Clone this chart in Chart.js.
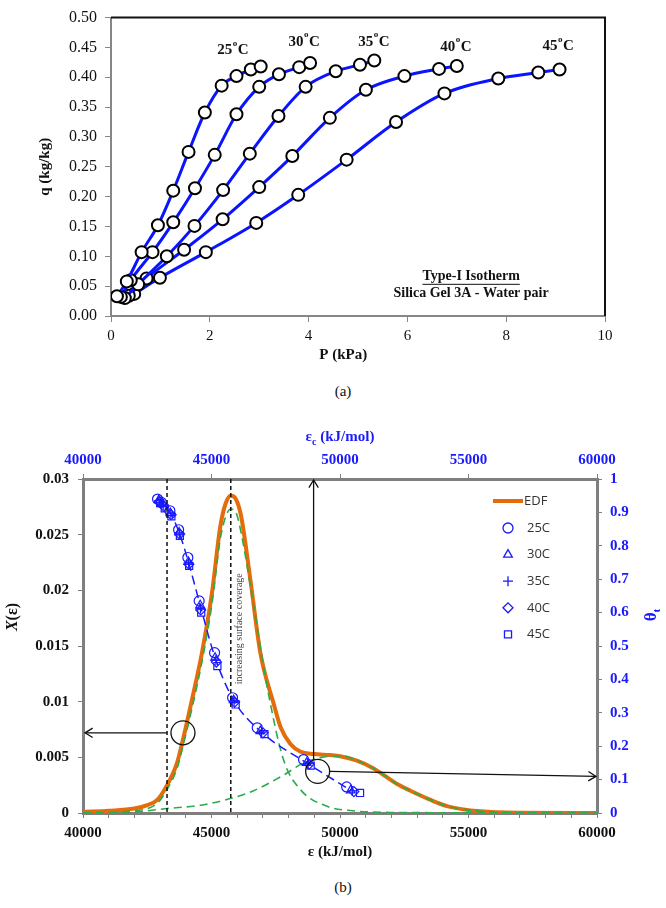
<!DOCTYPE html>
<html>
<head>
<meta charset="utf-8">
<script src="https://cdn.jsdelivr.net/npm/chart.js@4.4.1/dist/chart.umd.min.js"></script>
<style>
  body { margin: 0; background: #fff; width: 666px; height: 908px; position: relative; overflow: hidden; font-family: "Liberation Serif", serif; }
  canvas { position: absolute; left: 0; }
  .cap { position: absolute; left: 10px; width: 666px; text-align: center; font-size: 15px; color: #111; }
</style>
</head>
<body>
<canvas id="chartA" width="666" height="372" style="top:0"></canvas>
<div class="cap" style="top:383px">(a)</div>
<canvas id="chartB" width="666" height="440" style="top:425px"></canvas>
<div class="cap" style="top:879px">(b)</div>
<script>
// (a) isotherms: pressure (kPa) and uptake (kg/kg)
const isoLabels = ["25", "30", "35", "40", "45"];
const p25 = [0.12, 0.32, 0.62, 0.95, 1.26, 1.57, 1.90, 2.24, 2.54, 2.83, 3.03];
const q25 = [0.033, 0.058, 0.107, 0.152, 0.210, 0.275, 0.341, 0.386, 0.402, 0.413, 0.418];
const p30 = [0.20, 0.40, 0.84, 1.26, 1.70, 2.10, 2.54, 3.00, 3.40, 3.81, 4.03];
const q30 = [0.032, 0.060, 0.107, 0.157, 0.214, 0.270, 0.338, 0.384, 0.405, 0.417, 0.424];
const p35 = [0.28, 0.55, 1.13, 1.69, 2.27, 2.81, 3.39, 3.94, 4.55, 5.04, 5.33];
const q35 = [0.030, 0.053, 0.100, 0.151, 0.211, 0.272, 0.335, 0.384, 0.410, 0.421, 0.428];
const p40 = [0.36, 0.72, 1.48, 2.26, 3.00, 3.67, 4.43, 5.16, 5.94, 6.64, 7.00];
const q40 = [0.034, 0.063, 0.111, 0.162, 0.216, 0.268, 0.332, 0.379, 0.402, 0.414, 0.419];
const p45 = [0.47, 0.99, 1.92, 2.94, 3.79, 4.77, 5.77, 6.75, 7.84, 8.65, 9.08];
const q45 = [0.037, 0.064, 0.107, 0.156, 0.203, 0.262, 0.325, 0.373, 0.398, 0.408, 0.413];
// where the temperature labels sit (P, q)
const isoLabelP = [2.47, 3.91, 5.32, 6.98, 9.05];
const isoLabelQ = [0.445, 0.459, 0.459, 0.451, 0.452];

// (b) energy distribution function and its two components
const edfEps = [40000, 41000, 42000, 42500, 42900, 43270, 43660, 43890, 44300, 44630, 45020, 45340, 45550, 45750, 45950, 46150, 46510, 46900, 47420, 47690, 48070, 48470, 48970, 49620, 50010, 50660, 51310, 52220, 52740, 53500, 54200, 55460, 57000, 60000];
const edfX = [0.0001, 0.0002, 0.0004, 0.0007, 0.0012, 0.0025, 0.0045, 0.0066, 0.0108, 0.0144, 0.0198, 0.0257, 0.0278, 0.0285, 0.0282, 0.0267, 0.0210, 0.0144, 0.0098, 0.0077, 0.0062, 0.0055, 0.0053, 0.0052, 0.0051, 0.0047, 0.0040, 0.0026, 0.0020, 0.0012, 0.0006, 0.00015, 0.00002, 0];
const g1Eps = [40000, 42000, 42900, 43270, 43660, 43890, 44300, 44630, 45020, 45340, 45550, 45750, 45950, 46150, 46640, 47160, 47800, 48460, 49500, 50500, 52000, 60000];
const g1X = [0, 0.0002, 0.0009, 0.0021, 0.0040, 0.0060, 0.0100, 0.0136, 0.0188, 0.0246, 0.0266, 0.0273, 0.0270, 0.0252, 0.0186, 0.0114, 0.0048, 0.0021, 0.0006, 0.0002, 0.00005, 0];
const g2Eps = [40000, 42000, 43270, 44570, 45730, 46640, 47800, 48580, 49100, 49750, 50200, 50660, 51310, 52220, 52740, 53500, 54200, 55460, 57000, 60000];
const g2X = [0, 0.0001, 0.0004, 0.0007, 0.0013, 0.0020, 0.0034, 0.0045, 0.0049, 0.0051, 0.0051, 0.0047, 0.0040, 0.0026, 0.0020, 0.0012, 0.0006, 0.00015, 0.00002, 0];

// fractional coverage vs characteristic energy
const epsC25 = [42900, 43050, 43380, 43720, 44080, 44520, 45120, 45820, 46780, 48580, 50260];
const theta25 = [0.940, 0.930, 0.905, 0.848, 0.765, 0.635, 0.480, 0.345, 0.255, 0.160, 0.078];
const epsC30 = [42950, 43100, 43400, 43740, 44100, 44560, 45140, 45860, 46900, 48700, 50420];
const theta30 = [0.937, 0.925, 0.898, 0.840, 0.752, 0.622, 0.465, 0.338, 0.245, 0.150, 0.068];
const epsC35 = [42960, 43120, 43420, 43750, 44110, 44570, 45170, 45880, 46950, 48760, 50480];
const theta35 = [0.935, 0.922, 0.896, 0.838, 0.748, 0.612, 0.458, 0.335, 0.242, 0.148, 0.066];
const epsC40 = [42980, 43150, 43430, 43760, 44120, 44580, 45190, 45900, 47000, 48800, 50540];
const theta40 = [0.932, 0.918, 0.893, 0.835, 0.745, 0.608, 0.452, 0.332, 0.240, 0.146, 0.064];
const epsC45 = [43000, 43180, 43440, 43770, 44130, 44600, 45230, 45940, 47060, 48860, 50780];
const theta45 = [0.928, 0.912, 0.888, 0.830, 0.740, 0.600, 0.440, 0.325, 0.236, 0.142, 0.060];

// vertical marker lines (kJ/mol)
const markEps = [43270, 45750];

const serif = "'Liberation Serif', 'Times New Roman', serif";
const pts = (xs, ys) => xs.map((x, i) => ({ x: x, y: ys[i] }));

// ---------- chart (a) ----------
function drawDegLabel(ctx, x, y, num) {
    ctx.font = "bold 15px " + serif;
    const w1 = ctx.measureText(num).width;
    const w3 = ctx.measureText("C").width;
    ctx.font = "bold 9px " + serif;
    const w2 = ctx.measureText("o").width + 1;
    let cx = x - (w1 + w2 + w3) / 2;
    ctx.textAlign = "left";
    ctx.textBaseline = "middle";
    ctx.font = "bold 15px " + serif;
    ctx.fillText(num, cx, y);
    ctx.font = "bold 9px " + serif;
    ctx.fillText("o", cx + w1 + 0.5, y - 7);
    ctx.font = "bold 15px " + serif;
    ctx.fillText("C", cx + w1 + w2, y);
}

const isoPlugin = {
    id: "isoExtras",
    afterDraw(chart) {
        const { ctx, chartArea: a, scales: { x, y } } = chart;
        ctx.save();
        // black top and right frame
        ctx.strokeStyle = "#111";
        ctx.lineWidth = 2;
        ctx.beginPath();
        ctx.moveTo(a.left, a.top);
        ctx.lineTo(a.right, a.top);
        ctx.lineTo(a.right, a.bottom);
        ctx.stroke();

        ctx.fillStyle = "#111";
        isoLabels.forEach((t, i) => {
            drawDegLabel(ctx, x.getPixelForValue(isoLabelP[i]), y.getPixelForValue(isoLabelQ[i]), t);
        });

        // annotation box text
        ctx.textAlign = "center";
        ctx.textBaseline = "middle";
        ctx.font = "bold 14px " + serif;
        const tx = x.getPixelForValue(7.29);
        const ty1 = y.getPixelForValue(0.0665);
        const ty2 = y.getPixelForValue(0.0373);
        ctx.fillText("Type-I Isotherm", tx, ty1);
        const w = ctx.measureText("Type-I Isotherm").width;
        ctx.lineWidth = 1;
        ctx.beginPath();
        ctx.moveTo(tx - w / 2, ty1 + 8);
        ctx.lineTo(tx + w / 2, ty1 + 8);
        ctx.stroke();
        ctx.fillText("Silica Gel 3A - Water pair", tx, ty2);

        // x axis title, sits a little left of centre in the original
        ctx.font = "bold 15px " + serif;
        ctx.fillText("P (kPa)", x.getPixelForValue(4.7), 355);
        ctx.restore();
    }
};

const isoP = [p25, p30, p35, p40, p45];
const isoQ = [q25, q30, q35, q40, q45];

new Chart(document.getElementById("chartA"), {
    type: "scatter",
    data: {
        datasets: isoLabels.map((t, i) => ({
            label: t + "C",
            data: pts(isoP[i], isoQ[i]),
            showLine: true,
            borderColor: "#0a14ff",
            borderWidth: 3,
            cubicInterpolationMode: "monotone",
            pointRadius: 6,
            pointBackgroundColor: "#fff",
            pointBorderColor: "#000",
            pointBorderWidth: 2
        }))
    },
    options: {
        responsive: false,
        animation: false,
        layout: { padding: { left: 0, right: 61, top: 8, bottom: 0 }, autoPadding: false },
        plugins: { legend: { display: false }, tooltip: { enabled: false } },
        scales: {
            x: {
                type: "linear", min: 0, max: 10,
                border: { color: "#868686", width: 2 },
                grid: { drawOnChartArea: false, drawTicks: true, tickLength: 6, color: "#868686" },
                ticks: { stepSize: 2, padding: 5, color: "#111", font: { family: serif, size: 15 }, maxRotation: 0 },
                afterFit(s) { s.height = 56; }
            },
            y: {
                min: 0, max: 0.5,
                border: { color: "#868686", width: 2 },
                grid: { drawOnChartArea: false, drawTicks: true, tickLength: 6, color: "#868686" },
                ticks: { stepSize: 0.05, padding: 8, color: "#111", font: { family: serif, size: 16 }, callback: v => v.toFixed(2), autoSkip: false },
                title: { display: true, text: "q (kg/kg)", color: "#111", font: { family: serif, size: 15, weight: "bold" }, padding: { top: 36, bottom: 0 } },
                afterFit(s) { s.width = 111; }
            }
        }
    },
    plugins: [isoPlugin]
});

// ---------- chart (b) ----------
function arrowHead(ctx, x, y, dir) {
    // open "V" head pointing along dir (radians)
    const len = 9, spread = 0.55;
    ctx.beginPath();
    ctx.moveTo(x - len * Math.cos(dir - spread), y - len * Math.sin(dir - spread));
    ctx.lineTo(x, y);
    ctx.lineTo(x - len * Math.cos(dir + spread), y - len * Math.sin(dir + spread));
    ctx.stroke();
}

function drawSub(ctx, x, y, base, sub, rest, size, rotate) {
    ctx.save();
    ctx.translate(x, y);
    if (rotate) ctx.rotate(-Math.PI / 2);
    ctx.textBaseline = "alphabetic";
    ctx.textAlign = "left";
    ctx.font = "bold " + size + "px " + serif;
    const wb = ctx.measureText(base).width;
    const wr = ctx.measureText(rest).width;
    ctx.font = "bold " + Math.round(size * 0.65) + "px " + serif;
    const ws = ctx.measureText(sub).width;
    let cx = -(wb + ws + wr) / 2;
    ctx.font = "bold " + size + "px " + serif;
    ctx.fillText(base, cx, size * 0.35);
    ctx.font = "bold " + Math.round(size * 0.65) + "px " + serif;
    ctx.fillText(sub, cx + wb, size * 0.35 + 4);
    ctx.font = "bold " + size + "px " + serif;
    ctx.fillText(rest, cx + wb + ws, size * 0.35);
    ctx.restore();
}

const markerStyles = ["circle", "triangle", "cross", "rectRot", "rect"];
const markerNames = ["25C", "30C", "35C", "40C", "45C"];
const markerEps = [epsC25, epsC30, epsC35, epsC40, epsC45];
const markerTheta = [theta25, theta30, theta35, theta40, theta45];
const blue = "#1a1aff";
const orange = "#e46c0a";
const green = "#2cab4a";

const edfPlugin = {
    id: "edfExtras",
    afterDatasetsDraw(chart) {
        const { ctx, chartArea: a, scales: { x, y } } = chart;
        const px = v => x.getPixelForValue(v);
        const py = v => y.getPixelForValue(v);
        ctx.save();

        // dashed marker lines
        ctx.strokeStyle = "#111";
        ctx.lineWidth = 1.5;
        ctx.setLineDash([4, 3]);
        markEps.forEach(e => {
            ctx.beginPath();
            ctx.moveTo(px(e), a.top);
            ctx.lineTo(px(e), a.bottom);
            ctx.stroke();
        });
        ctx.setLineDash([]);

        // rotated note
        ctx.save();
        ctx.translate(px(46080), py(0.01655));
        ctx.rotate(-Math.PI / 2);
        ctx.fillStyle = "#444";
        ctx.font = "10px " + serif;
        ctx.textAlign = "center";
        ctx.textBaseline = "middle";
        ctx.fillText("increasing surface coverage", 0, 0);
        ctx.restore();

        // circles and arrows
        ctx.strokeStyle = "#111";
        ctx.lineWidth = 1.3;
        const c1x = px(43890), c1y = py(0.0072);
        ctx.beginPath(); ctx.arc(c1x, c1y, 12, 0, Math.PI * 2); ctx.stroke();
        ctx.beginPath(); ctx.moveTo(px(43270), c1y); ctx.lineTo(a.left + 2, c1y); ctx.stroke();
        arrowHead(ctx, a.left + 2, c1y, Math.PI);

        const c2x = px(49130), c2y = py(0.00374);
        ctx.beginPath(); ctx.arc(c2x, c2y, 12, 0, Math.PI * 2); ctx.stroke();
        const vx = px(48973);
        ctx.beginPath(); ctx.moveTo(vx, c2y - 11); ctx.lineTo(vx, a.top + 1); ctx.stroke();
        arrowHead(ctx, vx, a.top + 1, -Math.PI / 2);
        const ey = py(0.00329);
        ctx.beginPath(); ctx.moveTo(c2x + 12, c2y); ctx.lineTo(a.right - 1, ey); ctx.stroke();
        arrowHead(ctx, a.right - 1, ey, Math.atan2(ey - c2y, a.right - c2x - 12));

        // legend
        const lx = a.right - 89, tx = a.right - 70;
        ctx.strokeStyle = orange;
        ctx.lineWidth = 4;
        ctx.beginPath(); ctx.moveTo(a.right - 104, a.top + 22); ctx.lineTo(a.right - 74, a.top + 22); ctx.stroke();
        ctx.fillStyle = "#333";
        ctx.font = "13px 'Open Sans', sans-serif";
        ctx.textAlign = "left";
        ctx.textBaseline = "middle";
        ctx.fillText("EDF", tx - 3, a.top + 22);
        markerStyles.forEach((st, i) => {
            const yy = a.top + 49 + i * 26.6;
            ctx.strokeStyle = blue;
            ctx.fillStyle = "rgba(0,0,0,0)";
            ctx.lineWidth = 1.3;
            Chart.helpers.drawPoint(ctx, { pointStyle: st, radius: 5, borderWidth: 1.3, rotation: 0 }, lx, yy);
            ctx.fillStyle = "#333";
            ctx.fillText(markerNames[i], tx, yy);
        });
        ctx.restore();
    },
    afterDraw(chart) {
        const { ctx, chartArea: a } = chart;
        ctx.save();
        ctx.fillStyle = blue;
        drawSub(ctx, (a.left + a.right) / 2, 11, "\u03b5", "c", " (kJ/mol)", 15, false);
        drawSub(ctx, 650, 190, "\u03b8", "t", "", 17, true);
        // left title X(eps) with italic X
        ctx.fillStyle = "#111";
        ctx.translate(13, 192);
        ctx.rotate(-Math.PI / 2);
        ctx.textBaseline = "middle";
        ctx.textAlign = "left";
        ctx.font = "italic bold 16px " + serif;
        const wx = ctx.measureText("X").width;
        ctx.font = "bold 16px " + serif;
        const wr = ctx.measureText("(\u03b5)").width;
        ctx.font = "italic bold 16px " + serif;
        ctx.fillText("X", -(wx + wr) / 2, 0);
        ctx.font = "bold 16px " + serif;
        ctx.fillText("(\u03b5)", -(wx + wr) / 2 + wx, 0);
        ctx.restore();
    }
};

const gridGray = "#7f7f7f";
const bDatasets = [
    {
        label: "EDF", data: pts(edfEps, edfX), xAxisID: "x", yAxisID: "y",
        showLine: true, borderColor: orange, borderWidth: 4, pointRadius: 0,
        cubicInterpolationMode: "monotone", order: 3
    },
    {
        label: "peak 1", data: pts(g1Eps, g1X), xAxisID: "x", yAxisID: "y",
        showLine: true, borderColor: green, borderWidth: 1.6, borderDash: [8, 5], pointRadius: 0,
        cubicInterpolationMode: "monotone", order: 2
    },
    {
        label: "peak 2", data: pts(g2Eps, g2X), xAxisID: "x", yAxisID: "y",
        showLine: true, borderColor: green, borderWidth: 1.6, borderDash: [8, 5], pointRadius: 0,
        cubicInterpolationMode: "monotone", order: 2
    }
];
markerNames.forEach((n, i) => {
    bDatasets.push({
        label: n, data: pts(markerEps[i], markerTheta[i]), xAxisID: "x2", yAxisID: "y2",
        showLine: i === 1, borderColor: blue, borderWidth: 1.5, borderDash: [9, 5],
        cubicInterpolationMode: "monotone",
        pointStyle: markerStyles[i], pointRadius: 5, pointBorderWidth: 1.2,
        pointBorderColor: blue, pointBackgroundColor: "rgba(0,0,0,0)", order: 0
    });
});

const boldTick = () => ({ family: serif, size: 15, weight: "bold" });

new Chart(document.getElementById("chartB"), {
    type: "scatter",
    data: { datasets: bDatasets },
    options: {
        responsive: false,
        animation: false,
        layout: { padding: 0, autoPadding: false },
        plugins: { legend: { display: false }, tooltip: { enabled: false } },
        scales: {
            x: {
                type: "linear", position: "bottom", min: 40000, max: 60000,
                border: { color: gridGray, width: 3 },
                grid: { drawOnChartArea: false, drawTicks: true, tickLength: 5, color: gridGray },
                ticks: { stepSize: 1000, autoSkip: false, maxRotation: 0, padding: 6, color: "#111", font: boldTick(),
                    callback: v => (v % 5000 === 0 ? String(v) : "") },
                title: { display: true, text: "\u03b5 (kJ/mol)", color: "#111", font: { family: serif, size: 15, weight: "bold" }, padding: { top: 0, bottom: 4 } },
                afterFit(s) { s.height = 52; }
            },
            x2: {
                type: "linear", position: "top", min: 40000, max: 60000,
                border: { color: gridGray, width: 3 },
                grid: { drawOnChartArea: false, drawTicks: true, tickLength: 5, color: gridGray },
                ticks: { stepSize: 5000, autoSkip: false, maxRotation: 0, padding: 5, color: blue, font: boldTick(),
                    callback: v => String(v) },
                afterFit(s) { s.height = 54; }
            },
            y: {
                position: "left", min: 0, max: 0.03,
                border: { color: gridGray, width: 3 },
                grid: { drawOnChartArea: false, drawTicks: true, tickLength: 5, color: gridGray },
                ticks: { stepSize: 0.005, autoSkip: false, padding: 9, color: "#111", font: boldTick(),
                    callback: v => String(parseFloat(v.toFixed(3))) },
                afterFit(s) { s.width = 83; }
            },
            y2: {
                position: "right", min: 0, max: 1,
                border: { color: gridGray, width: 3 },
                grid: { drawOnChartArea: false, drawTicks: true, tickLength: 5, color: gridGray },
                ticks: { stepSize: 0.1, autoSkip: false, padding: 8, color: blue, font: boldTick(),
                    callback: v => String(parseFloat(v.toFixed(1))) },
                afterFit(s) { s.width = 69; }
            }
        }
    },
    plugins: [edfPlugin]
});
</script>
</body>
</html>
